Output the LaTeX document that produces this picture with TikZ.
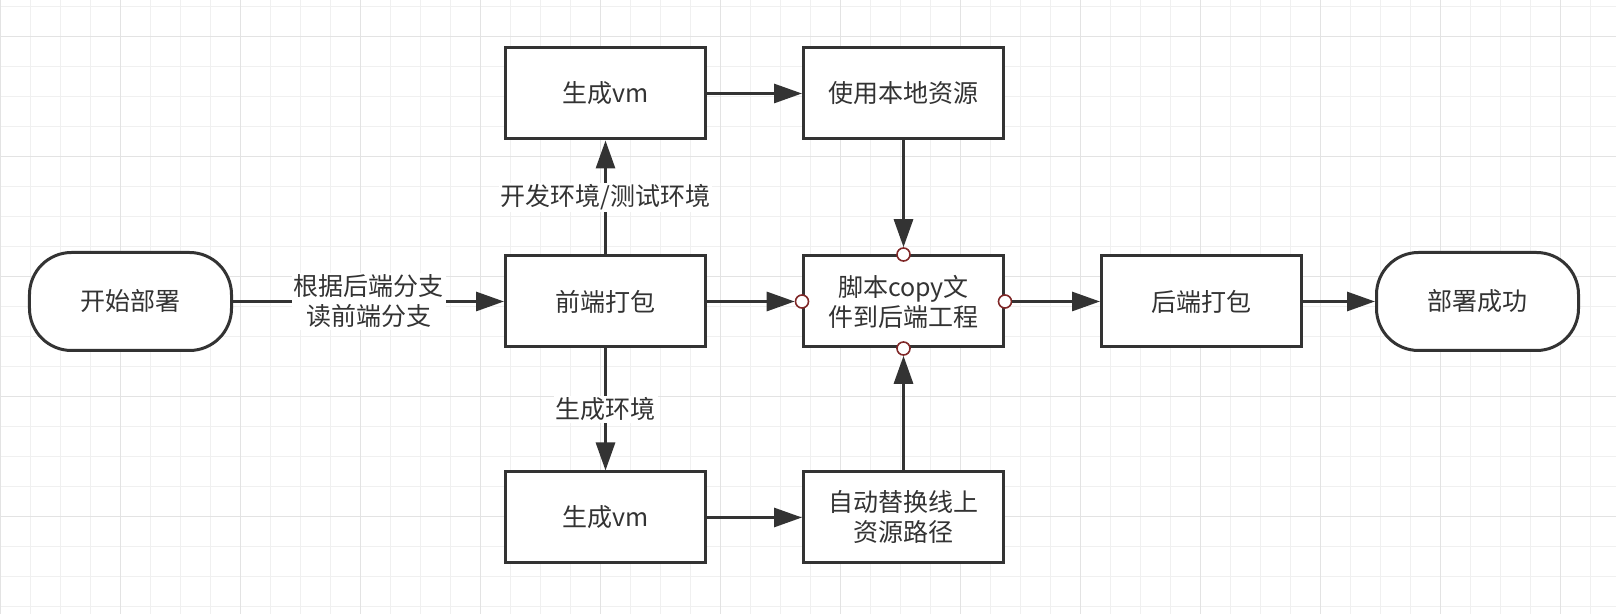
\documentclass[tikz,border=0pt]{standalone}
\usepackage{fontspec}
\setmainfont{Noto Sans CJK SC}
\usetikzlibrary{arrows.meta}
\definecolor{ink}{HTML}{333333}
\definecolor{portred}{HTML}{802828}
\definecolor{gridlo}{HTML}{F0F0F0}
\definecolor{gridhi}{HTML}{E3E3E3}
\begin{document}
\begin{tikzpicture}[node distance=149pt,font=\fontsize{12.5pt}{15pt}\selectfont,text=ink]
		\tikzset{dev/.style={draw=ink,line width=1.5pt,fill=white,minimum width=100pt,minimum height=45.5pt,align=center},
			term/.style={dev,minimum width=101pt,minimum height=49pt,rounded corners=21pt},
			com/.style={draw=ink,line width=1.5pt,>={Triangle[length=14pt,width=9.5pt]}},
			lbl/.style={fill=white,inner sep=1pt,align=center},
			port/.style={circle,draw=portred,line width=0.8pt,fill=white,inner sep=0pt,minimum size=6.5pt}}
		\useasboundingbox (-65.25pt,-156.25pt) rectangle (742.75pt,150.75pt);
		\begin{scope}
			\clip (-65.25pt,-156.25pt) rectangle (742.75pt,150.75pt);
			\draw[gridlo,line width=0.6pt,shift={(-64.9pt,147.4pt)},step=15pt] (-30pt,-330pt) grid (840pt,30pt);
			\draw[gridhi,line width=0.6pt,shift={(-64.9pt,132.4pt)},step=60pt] (-60pt,-300pt) grid (840pt,60pt);
		\end{scope}

		\node[term] (start) {开始部署};
		\node[dev] (pack) [right of=start,xshift=88.5pt] {前端打包};
		\node[dev] (copy) [right of=pack] {脚本copy文\\件到后端工程};
		\node[dev] (back) [right of=copy] {后端打包};
		\node[term] (done) [right of=back,xshift=-11pt] {部署成功};
		\node[dev] (vmup) [above of=pack,yshift=-45pt] {生成vm};
		\node[dev] (local) [right of=vmup] {使用本地资源};
		\node[dev] (vmdown) [below of=pack,yshift=41pt] {生成vm};
		\node[dev] (auto) [right of=vmdown] {自动替换线上\\资源路径};

		\node[port] (cn) at (copy.north) {};
		\node[port] (cw) at (copy.west) {};
		\node[port] (ce) at (copy.east) {};
		\node[port] (cs) at (copy.south) {};

		\draw[->,com] (start) -- node[lbl] {根据后端分支\\读前端分支} (pack);
		\draw[->,com] (pack) -- node[lbl] {开发环境/测试环境} (vmup);
		\draw[->,com] (pack) -- node[lbl] {生成环境} (vmdown);
		\draw[->,com] (vmup) -- (local);
		\draw[->,com] (vmdown) -- (auto);
		\draw[->,com] (local) -- (cn);
		\draw[->,com] (pack) -- (cw);
		\draw[->,com] (auto) -- (cs);
		\draw[->,com] (ce) -- (back);
		\draw[->,com] (back) -- (done);
\end{tikzpicture}
\end{document}
